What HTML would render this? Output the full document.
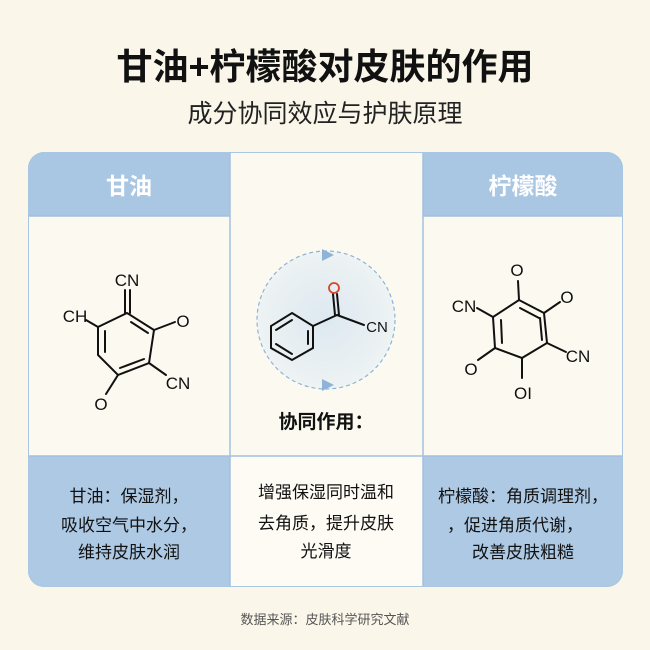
<!DOCTYPE html>
<html><head><meta charset="utf-8"><style>
body{margin:0;width:650px;height:650px;background:#faf7ea;font-family:"Liberation Sans","Noto Sans CJK SC",sans-serif;position:relative;overflow:hidden}
.t{position:absolute;left:0;width:650px;text-align:center}
</style></head><body>
<div class="t" style="top:38px;font-size:36px;font-weight:bold;color:#111">甘油+柠檬酸对皮肤的作用</div>
<div class="t" style="top:94px;font-size:25px;color:#222">成分协同效应与护肤原理</div>
<svg width="650" height="650" style="position:absolute;left:0;top:0">
<defs>
<clipPath id="c"><rect x="28" y="152" width="595" height="435" rx="16"/></clipPath>
<radialGradient id="g" cx="0.5" cy="0.5" r="0.5"><stop offset="0" stop-color="#dde8f1"/><stop offset="1" stop-color="#eef3f3"/></radialGradient>
</defs>
<g clip-path="url(#c)">
<rect x="28" y="152" width="595" height="435" fill="#fcfaf0"/>
<rect x="28" y="152" width="202" height="64" fill="#a9c6e2"/>
<rect x="423" y="152" width="200" height="64" fill="#a9c6e2"/>
<rect x="28" y="456" width="202" height="131" fill="#adc9e4"/>
<rect x="423" y="456" width="200" height="131" fill="#adc9e4"/>
<rect x="230" y="456" width="193" height="131" fill="#fdfbf4"/>
<line x1="230" y1="152" x2="230" y2="587" stroke="#a3c0e0" stroke-width="1.5"/>
<line x1="423" y1="152" x2="423" y2="587" stroke="#a3c0e0" stroke-width="1.5"/>
<line x1="28" y1="456" x2="623" y2="456" stroke="#a3c0e0" stroke-width="1.5"/>
<line x1="28" y1="216" x2="230" y2="216" stroke="#a3c0e0" stroke-width="1.5"/>
<line x1="423" y1="216" x2="623" y2="216" stroke="#a3c0e0" stroke-width="1.5"/>
</g>
<rect x="28.5" y="152.5" width="594" height="434" rx="16" fill="none" stroke="#a9c6e2" stroke-width="1"/>
<text x="129" y="194" font-size="23" font-weight="bold" fill="#fff" text-anchor="middle">甘油</text>
<text x="523" y="194" font-size="23" font-weight="bold" fill="#fff" text-anchor="middle">柠檬酸</text>
<g stroke="#111" stroke-width="2" fill="none" stroke-linecap="round">
<polygon points="127,313 154,330 149,363 118,375 98,355 98,327"/>
<line x1="131" y1="322" x2="148" y2="333"/>
<line x1="105" y1="331" x2="105" y2="352"/>
<line x1="144" y1="359" x2="120" y2="368"/>
<line x1="125" y1="313" x2="125" y2="290"/><line x1="130" y1="313" x2="130" y2="290"/>
<line x1="98" y1="327" x2="86" y2="320"/>
<line x1="154" y1="330" x2="175" y2="322"/>
<line x1="149" y1="363" x2="166" y2="375"/>
<line x1="118" y1="375" x2="106" y2="394"/>
</g>
<g font-size="17" fill="#111" text-anchor="middle">
<text x="127" y="286">CN</text><text x="75" y="322">CH</text><text x="183" y="327">O</text>
<text x="178" y="389">CN</text><text x="101" y="410">O</text>
</g>
<circle cx="326" cy="320" r="69" fill="url(#g)" stroke="#8fb3d8" stroke-width="1.2" stroke-dasharray="4,3"/>
<polygon points="322,249 334,255 322,261" fill="#8fb3d8"/>
<polygon points="322,379 334,385 322,391" fill="#8fb3d8"/>
<g stroke="#111" stroke-width="2" fill="none" stroke-linecap="round">
<polygon points="292,313 313,326 313,348 292,360 271,348 271,326"/>
<line x1="276" y1="330" x2="292" y2="320"/>
<line x1="308" y1="331" x2="308" y2="344"/>
<line x1="276" y1="344" x2="292" y2="354"/>
<line x1="313" y1="326" x2="337" y2="315"/>
<line x1="337" y1="315" x2="364" y2="325"/>
<line x1="335" y1="315" x2="333" y2="294"/><line x1="339" y1="315" x2="337" y2="294"/>
</g>
<circle cx="334" cy="288" r="5" fill="none" stroke="#d4472a" stroke-width="1.8"/>
<text x="377" y="332" font-size="15" fill="#111" text-anchor="middle">CN</text>
<text x="326" y="428" font-size="19" font-weight="bold" fill="#111" text-anchor="middle">协同作用：</text>
<g stroke="#111" stroke-width="2" fill="none" stroke-linecap="round">
<polygon points="519,300 544,313 547,343 522,358 495,348 493,317"/>
<line x1="520" y1="308" x2="539" y2="318"/>
<line x1="540" y1="318" x2="542" y2="340"/>
<line x1="501" y1="320" x2="502" y2="343"/>
<line x1="519" y1="300" x2="518" y2="281"/>
<line x1="544" y1="313" x2="560" y2="302"/>
<line x1="493" y1="317" x2="477" y2="308"/>
<line x1="547" y1="343" x2="566" y2="352"/>
<line x1="495" y1="348" x2="478" y2="360"/>
<line x1="522" y1="358" x2="522" y2="378"/>
</g>
<g font-size="17" fill="#111" text-anchor="middle">
<text x="517" y="276">O</text><text x="567" y="303">O</text><text x="464" y="312">CN</text>
<text x="578" y="362">CN</text><text x="471" y="375">O</text><text x="523" y="399">OI</text>
</g>
<g font-size="17" fill="#111" text-anchor="middle">
<text x="129" y="502">甘油：保湿剂，</text>
<text x="129" y="531">吸收空气中水分，</text>
<text x="129" y="558">维持皮肤水润</text>
<text x="326" y="498">增强保湿同时温和</text>
<text x="326" y="529">去角质，提升皮肤</text>
<text x="326" y="557">光滑度</text>
<text x="523" y="502">柠檬酸：角质调理剂，</text>
<text x="515" y="531">，促进角质代谢，</text>
<text x="523" y="558">改善皮肤粗糙</text>
</g>
<text x="325" y="624" font-size="13" fill="#555" text-anchor="middle">数据来源：皮肤科学研究文献</text>
</svg>
</body></html>
